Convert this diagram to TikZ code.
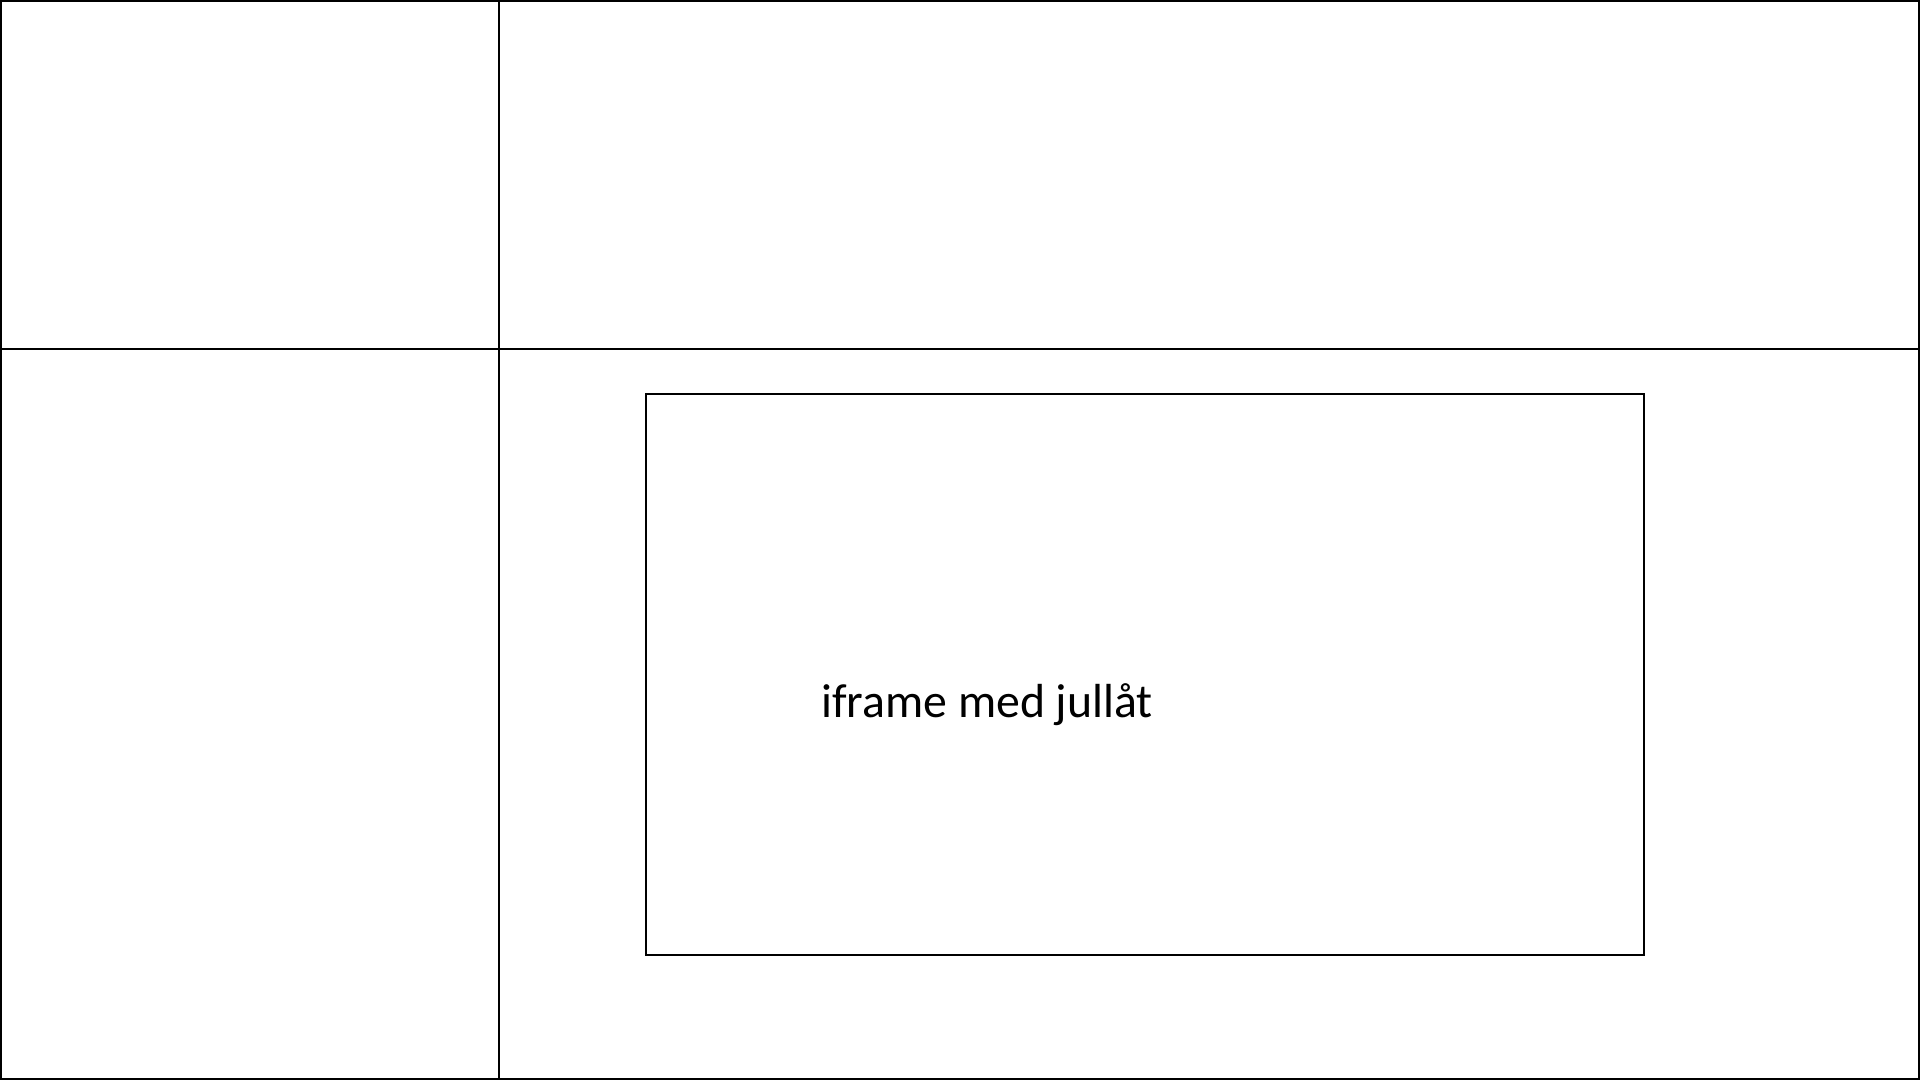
\documentclass[tikz,border=0pt]{standalone}
\usepackage{fontspec}
\setmainfont{Carlito}

\begin{document}
\begin{tikzpicture}[line width=0.6pt,x=1cm,y=1cm]
  \useasboundingbox (0,0) rectangle (19.2,10.8);
  % Corners of the page frame and its two dividing lines.
  \coordinate (NW) at (0.01,10.79);
  \coordinate (SE) at (19.19,0.01);
  \coordinate (TopDiv) at (4.99,10.79);
  \coordinate (BotDiv) at (4.99,0.01);
  \coordinate (LeftRow) at (0.01,7.31);
  \coordinate (RightRow) at (19.19,7.31);
  % Outer frame.
  \draw (NW) rectangle (SE);
  % Column and row dividers.
  \draw (TopDiv) -- (BotDiv);
  \draw (LeftRow) -- (RightRow);
  % The embedded frame.
  \coordinate (FrameNW) at (6.46,6.86);
  \coordinate (FrameSE) at (16.44,1.25);
  \draw (FrameNW) rectangle (FrameSE);
  % Its caption.
  \node[anchor=base,inner sep=0pt,font=\fontsize{13.6pt}{16pt}\selectfont] (iframe) at (9.87,3.62) {iframe med jullåt};
\end{tikzpicture}
\end{document}
